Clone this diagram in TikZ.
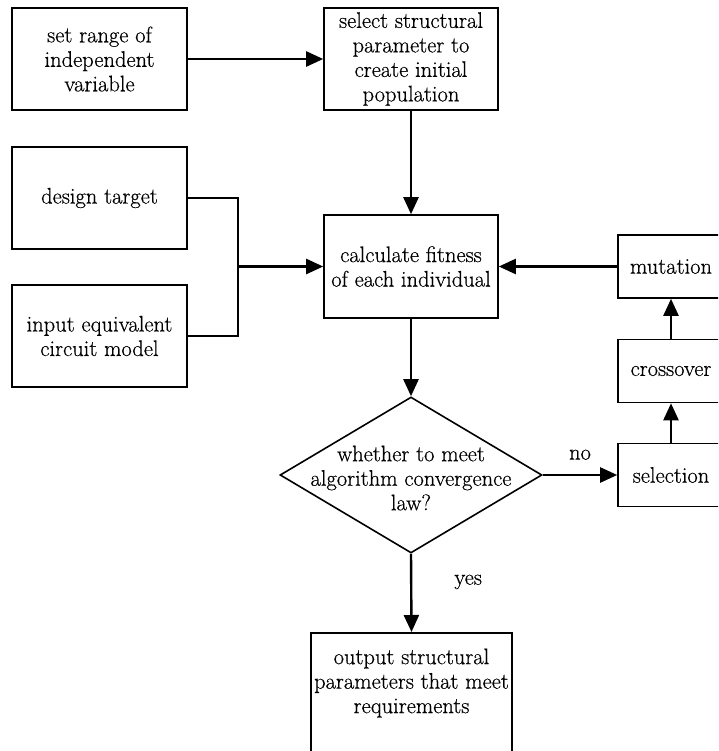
\documentclass[tikz,border=0pt]{standalone}
\usepackage{fontspec}
\setmainfont{Latin Modern Roman}[FakeBold=0.5]
\usetikzlibrary{arrows.meta,shapes.geometric}
\begin{document}
\begin{tikzpicture}[x=1pt,y=-1pt,
  box/.style={draw,line width=1.6pt,inner sep=0pt,align=center,font=\fontsize{22.5}{24.5}\selectfont},
  lbl/.style={inner sep=0pt,font=\fontsize{22.5}{24.5}\selectfont},
  arr/.style={line width=2.4pt,-{Triangle[length=17pt,width=15pt]}},
  ln/.style={line width=2.4pt}]
\useasboundingbox (0,0) rectangle (718,751);
\clip (0,0) rectangle (718,751);
\node[box,minimum width=175pt,minimum height=102pt] (a) at (99.5,59) {set range of\\independent\\variable};
\node[box,minimum width=174pt,minimum height=102pt] (b) at (411,59) {select structural\\parameter to\\create initial\\population};
\node[box,minimum width=175pt,minimum height=102pt] (c) at (99.5,198) {design target};
\node[box,minimum width=175pt,minimum height=102pt] (d) at (99.5,336) {input equivalent\\circuit model};
\node[box,minimum width=174pt,minimum height=103pt] (e) at (411,266.5) {calculate fitness\\of each individual};
\node[box,minimum width=106pt,minimum height=63pt] (m) at (671,266.5) {mutation};
\node[box,minimum width=106pt,minimum height=63pt] (cr) at (671,371) {crossover};
\node[box,minimum width=106pt,minimum height=63pt] (s) at (671,475) {selection};
\node[draw,line width=1.6pt,diamond,aspect=1.68,minimum width=262pt,minimum height=156pt,inner sep=0pt] (q) at (411,475) {};
\node[lbl,align=center] (qt) at (411,478) {whether to meet\\algorithm convergence\\law?};
\node[box,minimum width=201pt,minimum height=160pt,anchor=north] (o) at (411.5,632) {};
\node[lbl,align=center] (ot) at (411.5,683) {output structural\\parameters that meet\\requirements};
\coordinate (j1) at (238,198);
\coordinate (j2) at (238,336);
\coordinate (j3) at (238,266.5);
\draw[arr] (a.east) -- (b.west);
\draw[arr] (b.south) -- (e.north);
\draw[ln] (c.east) -- (j1) -- (j2) -- (d.east);
\draw[arr] (j3) -- (e.west);
\draw[arr] (m.west) -- (e.east);
\draw[arr] (s.north) -- (cr.south);
\draw[arr] (cr.north) -- (m.south);
\draw[arr] (e.south) -- (q.north);
\draw[arr] (q.east) -- node[lbl,above=14pt] (no) {no} (s.west);
\draw[arr] (q.south) -- node[lbl,right=42pt,pos=0.36] (yes) {yes} (o.north);
\end{tikzpicture}
\end{document}
